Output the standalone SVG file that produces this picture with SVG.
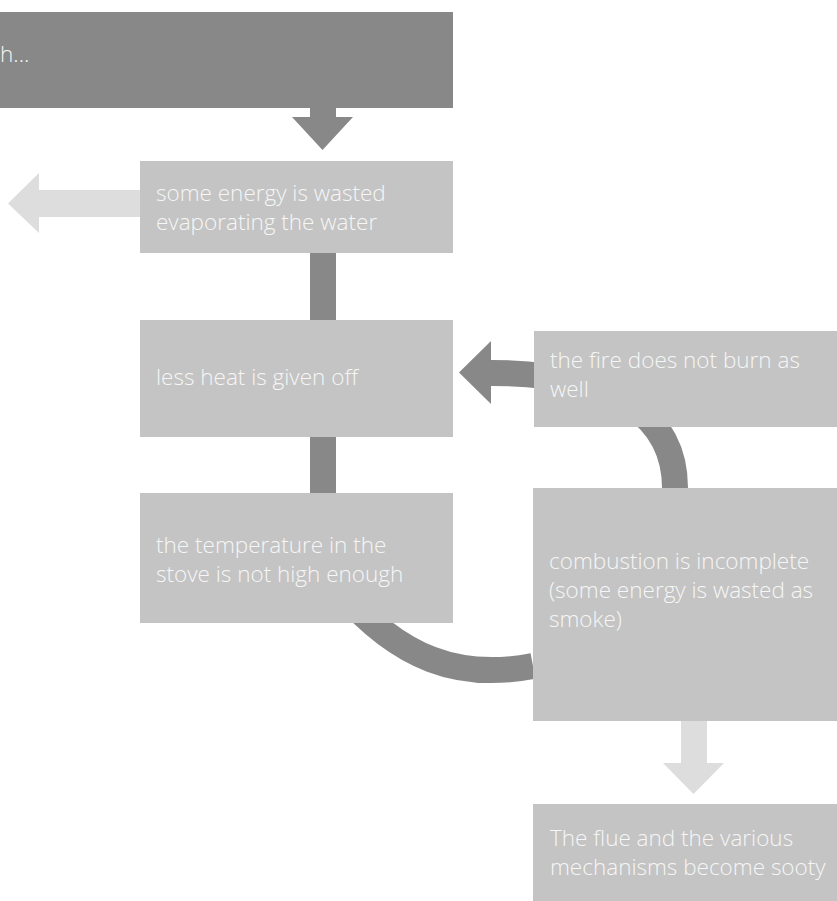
<svg xmlns="http://www.w3.org/2000/svg" width="837" height="901" viewBox="0 0 837 901">
<style>
.box{fill:#c4c4c4}
.dark{fill:#888888}
.light{fill:#dddddd}
.line{fill:none;stroke:#888888;stroke-width:26}
text{font-family:"Open Sans","Noto Sans","DejaVu Sans",sans-serif;font-size:22.5px;font-weight:300;fill:#f6f6f6}
</style>
<rect width="837" height="901" fill="#ffffff"/>
<g id="connectors">
<path class="line" d="M675,488 C675,420 620,373 491,373"/>
<polygon class="dark" points="491,341 459,372.5 491,404"/>
<path class="line" d="M533,666 C460,680 400,660 340,590"/>
<polygon class="dark" points="310,108 336,108 336,117 353,117 322.5,150 292,117 310,117"/>
<polygon class="light" points="141,190 39,190 39,173 8,203.5 39,233 39,217 141,217"/>
<rect class="dark" x="310" y="252" width="26" height="69"/>
<rect class="dark" x="310" y="436" width="26" height="58"/>
<polygon class="light" points="681,720 707,720 707,763 724,763 693.5,794 663,763 681,763"/>
</g>
<g id="node-top">
<rect class="dark" x="0" y="12" width="453" height="96"/>
<text x="0" y="62">h...</text>
</g>
<g id="node-evaporate">
<rect class="box" x="140" y="161" width="313" height="92"/>
<text x="156" y="201">some energy is wasted</text>
<text x="156" y="230">evaporating the water</text>
</g>
<g id="node-heat">
<rect class="box" x="140" y="320" width="313" height="117"/>
<text x="156" y="385">less heat is given off</text>
</g>
<g id="node-temperature">
<rect class="box" x="140" y="493" width="313" height="130"/>
<text x="156" y="553">the temperature in the</text>
<text x="156" y="582">stove is not high enough</text>
</g>
<g id="node-fire">
<rect class="box" x="534" y="331" width="303" height="96"/>
<text x="550" y="368">the fire does not burn as</text>
<text x="550" y="397">well</text>
</g>
<g id="node-combustion">
<rect class="box" x="533" y="488" width="304" height="233"/>
<text x="549" y="569">combustion is incomplete</text>
<text x="549" y="598">(some energy is wasted as</text>
<text x="549" y="627">smoke)</text>
</g>
<g id="node-soot">
<rect class="box" x="533" y="804" width="304" height="97"/>
<text x="550" y="846">The flue and the various</text>
<text x="550" y="875">mechanisms become sooty</text>
</g>
</svg>
